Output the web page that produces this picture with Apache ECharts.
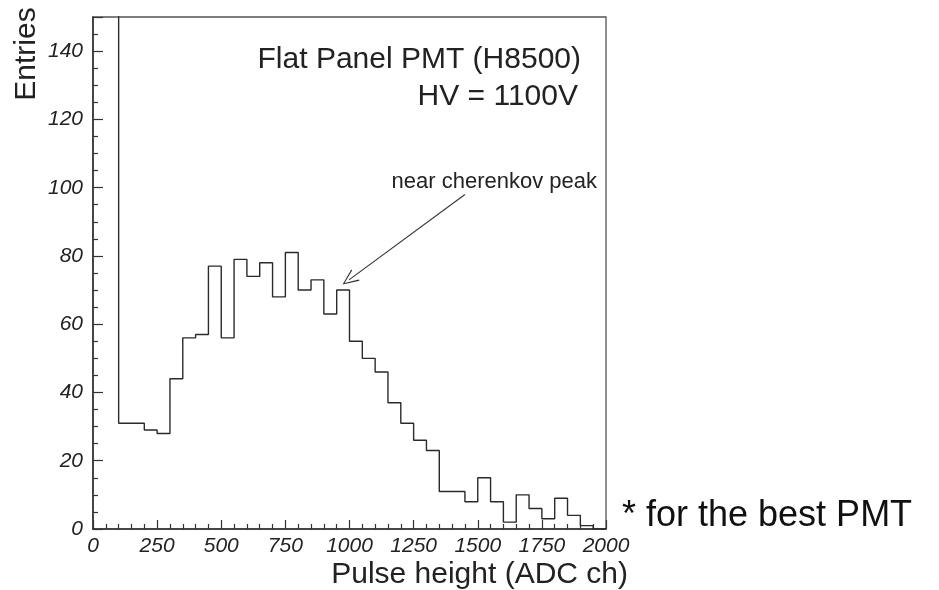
<!DOCTYPE html>
<html>
<head>
<meta charset="utf-8">
<script src="https://cdn.jsdelivr.net/npm/echarts@6/dist/echarts.min.js"></script>
<style>
  html, body { margin: 0; padding: 0; background: #fff; }
  #main { width: 939px; height: 590px; }
</style>
</head>
<body>
<div id="main"></div>
<script>
// histogram: bins of 50 ADC channels from 0 to 2000
const binWidth = 50;
const counts = [600, 900, 31, 31, 29, 28, 44, 56, 57, 77, 56, 79, 74, 78, 68, 81, 70, 73, 63, 70,
                55, 50, 46, 37, 31, 26, 23, 11, 11, 8, 15, 8, 2, 10, 6, 3, 9, 4, 1, 0];
const xTicks = [0, 250, 500, 750, 1000, 1250, 1500, 1750, 2000];
const yTicks = [0, 20, 40, 60, 80, 100, 120, 140];
// annotation arrow (data coords): from text to the peak
const arrowFrom = [1450, 98];
const arrowTo = [998, 73];

let points = [];
for (let i = 0; i < counts.length; i++) {
  points.push([i * binWidth, counts[i]]);
}
points.push([counts.length * binWidth, counts[counts.length - 1]]);

const font = "Liberation Sans, Arial, Helvetica, sans-serif";
const chevron = "path://M0,10 L5,0 L10,10 L9,10 L5,1.6 L1,10 Z";

let chart = echarts.init(document.getElementById("main"));
let option = {
  animation: false,
  backgroundColor: "#fff",
  grid: {
    left: 93, top: 17, right: 333, bottom: 61,
    show: true, borderColor: "#555", borderWidth: 1.3, backgroundColor: "transparent"
  },
  xAxis: {
    type: "value",
    min: xTicks[0],
    max: xTicks[xTicks.length - 1],
    interval: xTicks[1] - xTicks[0],
    axisLine: { show: true, lineStyle: { color: "#333", width: 1.6 } },
    axisTick: { show: true, inside: true, length: 9, lineStyle: { color: "#333", width: 1.2 } },
    minorTick: { show: true, splitNumber: 5, length: 5, lineStyle: { color: "#333", width: 1.2 } },
    splitLine: { show: false },
    axisLabel: {
      margin: 7, color: "#222", fontSize: 21, fontStyle: "italic", fontFamily: font,
      formatter: (v) => String(v)
    }
  },
  yAxis: {
    type: "value",
    min: 0,
    max: 150,
    interval: yTicks[1] - yTicks[0],
    axisLine: { show: true, lineStyle: { color: "#333", width: 1.6 } },
    axisTick: { show: true, inside: true, length: 10, lineStyle: { color: "#333", width: 1.2 } },
    minorTick: { show: true, splitNumber: 4, length: 5, lineStyle: { color: "#333", width: 1.2 } },
    splitLine: { show: false },
    axisLabel: {
      margin: 10, color: "#222", fontSize: 21, fontStyle: "italic", fontFamily: font,
      showMaxLabel: false,
      formatter: (v) => String(v)
    }
  },
  series: [
    {
      type: "line",
      step: "end",
      data: points,
      symbol: "none",
      clip: true,
      lineStyle: { color: "#2a2a2a", width: 1.4 },
      silent: true,
      markLine: {
        silent: true,
        symbol: ["none", chevron],
        symbolSize: [14, 16],
        label: { show: false },
        lineStyle: { type: "solid", color: "#333", width: 1.1 },
        data: [[{ coord: arrowFrom }, { coord: arrowTo }]]
      }
    }
  ],
  graphic: [
    {
      type: "text", x: 27, y: 54, rotation: Math.PI / 2,
      style: { text: "Entries", font: "30px " + font, fill: "#222", align: "center", verticalAlign: "middle" }
    },
    {
      type: "text", x: 628, y: 575,
      style: { text: "Pulse height (ADC ch)", font: "30px " + font, fill: "#222", align: "right", verticalAlign: "middle" }
    },
    {
      type: "text", x: 581, y: 60,
      style: { text: "Flat Panel PMT (H8500)", font: "30px " + font, fill: "#222", align: "right", verticalAlign: "middle" }
    },
    {
      type: "text", x: 578, y: 97,
      style: { text: "HV = 1100V", font: "30px " + font, fill: "#222", align: "right", verticalAlign: "middle" }
    },
    {
      type: "text", x: 597, y: 182,
      style: { text: "near cherenkov peak", font: "22px " + font, fill: "#222", align: "right", verticalAlign: "middle" }
    },
    {
      type: "text", x: 622, y: 516,
      style: { text: "* for the best PMT", font: "36px " + font, fill: "#111", align: "left", verticalAlign: "middle" }
    }
  ]
};
option && chart.setOption(option);
</script>
</body>
</html>
